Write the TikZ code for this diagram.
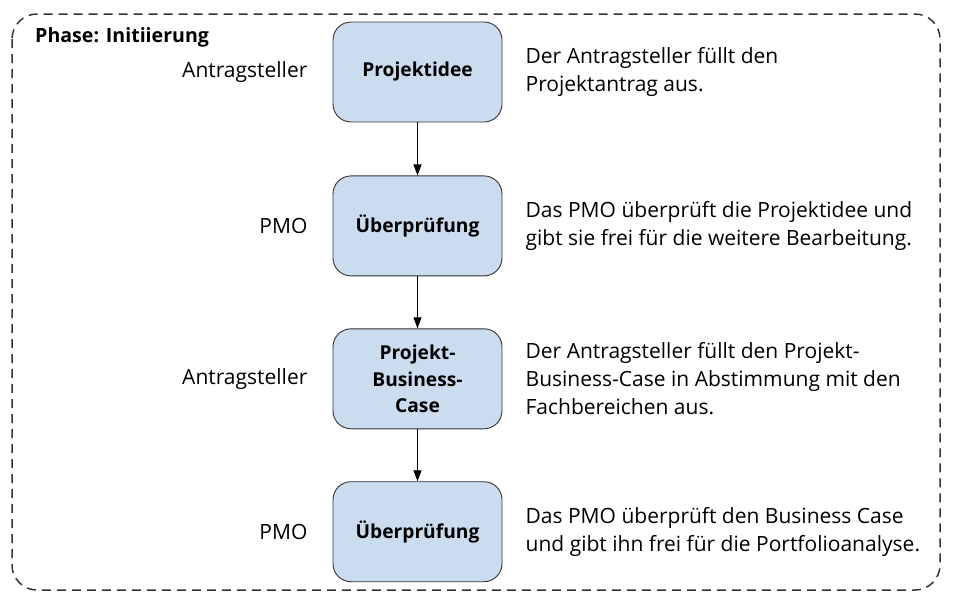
\documentclass[tikz,border=0pt]{standalone}
\usepackage{fontspec}
\setmainfont{Open Sans}
\usetikzlibrary{positioning}
\usetikzlibrary{arrows.meta}
\definecolor{boxblue}{HTML}{CCDCEF}
\definecolor{linegray}{HTML}{333333}

\begin{document}
\begin{tikzpicture}[x=1pt,y=-1pt,
 box/.style={draw=linegray,fill=boxblue,line width=0.9pt,rounded corners=18pt,
  minimum width=169pt,minimum height=100pt,align=center,
  font=\bfseries\fontsize{19.2}{26.5}\selectfont},
 role/.style={inner sep=0pt,font=\fontsize{21}{28}\selectfont},
 info/.style={inner sep=0pt,align=left,font=\fontsize{21}{28}\selectfont},
 flow/.style={-{Stealth[length=11pt,width=8pt,inset=0pt]},line width=0.9pt,draw=black}]
 \useasboundingbox (0,0) rectangle (953,600);
 \draw[linegray,line width=1.5pt,dash pattern=on 9pt off 6pt,rounded corners=25pt] (12,14) rectangle (940,590);
 \node[anchor=west,inner sep=0pt,font=\bfseries\fontsize{19.6}{24}\selectfont] (phase) at (35,37) {Phase: Initiierung};

 \node[box] (idee) at (417.5,72) {Projektidee};
 \node[box,below=53pt of idee] (pruef1) {Überprüfung};
 \node[box,below=52pt of pruef1] (bcase) {Projekt-\\Business-\\Case};
 \node[box,below=52pt of bcase] (pruef2) {Überprüfung};

 \draw[flow] (idee) -- (pruef1);
 \draw[flow] (pruef1) -- (bcase);
 \draw[flow] (bcase) -- (pruef2);

 %% roles
 \node[role,left=25pt of idee] (r1) {Antragsteller};
 \node[role,left=25pt of pruef1] (r2) {PMO};
 \node[role,left=25pt of bcase] (r3) {Antragsteller};
 \node[role,left=25pt of pruef2] (r4) {PMO};

 %% descriptions
 \node[info,right=23pt of idee] (t1) {Der Antragsteller füllt den\\Projektantrag aus.};
 \node[info,right=23pt of pruef1] (t2) {Das PMO überprüft die Projektidee und\\gibt sie frei für die weitere Bearbeitung.};
 \node[info,right=23pt of bcase] (t3) {Der Antragsteller füllt den Projekt-\\Business-Case in Abstimmung mit den\\Fachbereichen aus.};
 \node[info,right=23pt of pruef2] (t4) {Das PMO überprüft den Business Case\\und gibt ihn frei für die Portfolioanalyse.};
\end{tikzpicture}
\end{document}
